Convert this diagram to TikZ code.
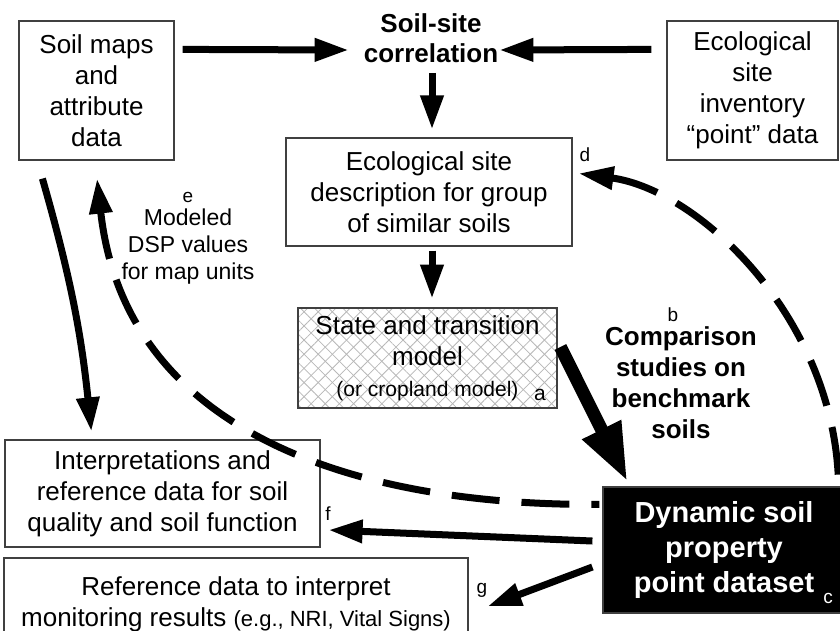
\documentclass[tikz,border=0pt]{standalone}
\usepackage{fontspec}
\setmainfont{Liberation Sans}
\usetikzlibrary{arrows.meta,patterns.meta,calc}
\newcommand\fsz[2]{\fontsize{#1}{#2}\selectfont}
\begin{document}
\begin{tikzpicture}[x=1pt,y=-1pt,
  box/.style={draw=black!75, line width=1.2pt, align=center, inner sep=0pt, font=\fsz{26}{31}},
  hatch/.style={preaction={fill=white},
    preaction={pattern={Lines[angle=45,distance=10pt,line width=0.8pt]}, pattern color=black!28},
    pattern={Lines[angle=-45,distance=10pt,line width=0.8pt]}, pattern color=black!28},
  lab/.style={font=\fsz{19}{22}, inner sep=0pt},
  fat/.style={line width=7pt, -{Triangle[length=34pt,width=22pt]}},
  huge/.style={line width=13pt, -{Triangle[length=58pt,width=40pt]}},
  dashy/.style={line width=7pt, dash pattern=on 48pt off 22pt}
]
\useasboundingbox (0,0) rectangle (840,630);

% boxes
\node[box, minimum width=155pt, minimum height=139pt] (soilmaps) at (96.5,90.5) {Soil maps\\and\\attribute\\data};
\node[box, minimum width=171pt, minimum height=139pt] (inv) at (752.5,90.5) {Ecological\\site\\inventory\\“point” data};
\node[font=\bfseries\fsz{26}{30}, align=center, inner sep=0pt] (corr) at (431,38) {Soil-site\\correlation};
\node[box, minimum width=286pt, minimum height=108pt] (esd) at (429,192) {Ecological site\\description for group\\of similar soils};
\node[box, hatch, minimum width=259pt, minimum height=100pt] (stm) at (427.5,358) {State and transition\\model\\{\fsz{21}{25}(or cropland model)}};
\node[box, minimum width=315pt, minimum height=107pt] (interp) at (162.5,493.5) {Interpretations and\\reference data for soil\\quality and soil function};
\node[box, minimum width=464pt, minimum height=92pt] (ref) at (236,604) {Reference data to interpret\\monitoring results {\fsz{22}{31}(e.g., NRI, Vital Signs)}};
\node[fill=black, draw=black!75, line width=1.2pt, minimum width=242pt, minimum height=126pt, text=white, font=\bfseries\fsz{29}{35}, align=center, inner sep=0pt] (dsp) at (724,550) {Dynamic soil\\property\\point dataset};

% texts
\node[font=\fsz{23}{27}, align=center, inner sep=0pt] (model) at (188,247) {Modeled\\DSP values\\for map units};
\node[font=\bfseries\fsz{26}{31}, align=center, inner sep=0pt] (comp) at (681,383) {Comparison\\studies on\\benchmark\\soils};
\node[lab, font=\fsz{21}{24}] (la) at (540,395) {a};
\node[lab] (lb) at (673,315) {b};
\node[lab, text=white] (lc) at (828,598) {c};
\node[lab] (ld) at (585,155) {d};
\node[lab] (le) at (188,197) {e};
\node[lab] (lf) at (328,514) {f};
\node[lab] (lg) at (482,590) {g};

% connectors
\draw[fat] ($(soilmaps.north east)+(8,29)$) -- ($(corr.west)+(-15,12)$);
\draw[fat] ($(inv.north west)+(-15,29)$) -- ($(corr.east)+(1,12)$);
\draw[fat] ($(corr.south)+(1,10)$) -- ($(esd.north)+(3,-8)$);
\draw[fat] ($(esd.south)+(3,4)$) -- ($(stm.north)+(4.5,-9)$);
\draw[huge] ($(stm.east)+(3,-11)$) -- ($(dsp.north west)+(25,-5)$);
\draw[fat] ($(soilmaps.south west)+(24,18)$) to[bend left=5] ($(interp.north west)+(87,-8)$);
\draw[fat] ($(dsp.west)+(-10,-9)$) -- ($(interp.east)+(8,36.5)$);
\draw[fat] ($(dsp.west)+(-10,17)$) -- ($(ref.north east)+(19,49)$);
\draw[dashy, {Triangle[length=35pt,width=22pt]}-] ($(soilmaps.south)+(0.5,18)$) .. controls (125,430) and (350,506) .. ($(dsp.north west)+(-3,18)$);
\draw[dashy, {Triangle[length=35pt,width=22pt]}-] ($(esd.north east)+(6,36)$) .. controls (700,190) and (836,320) .. ($(dsp.north east)+(-7,0)$);
\end{tikzpicture}
\end{document}
